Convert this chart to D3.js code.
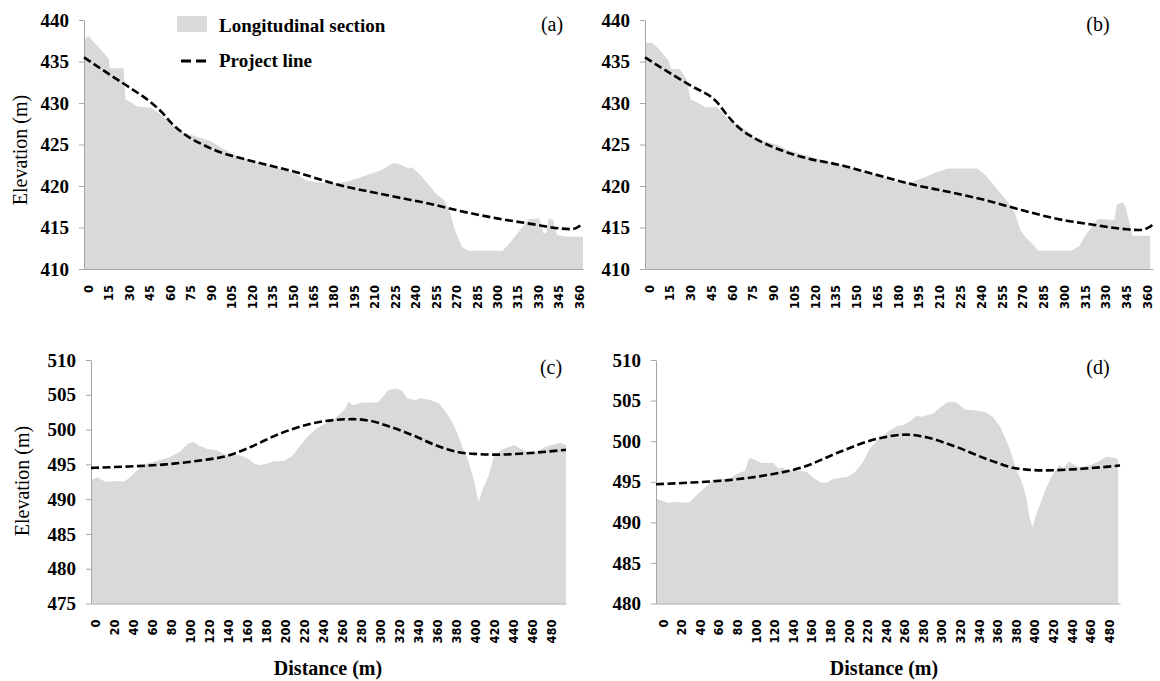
<!DOCTYPE html>
<html><head><meta charset="utf-8">
<script src="https://cdn.jsdelivr.net/npm/d3@7"></script>
<style>body{margin:0;background:#fff}svg{display:block}</style>
</head><body>
<svg id="chart" width="1160" height="681"></svg>
<script>
// ---------- DATA ----------
const ticksDistAB = [0,15,30,45,60,75,90,105,120,135,150,165,180,195,210,225,240,255,270,285,300,315,330,345,360];
const ticksDistCD = [0,20,40,60,80,100,120,140,160,180,200,220,240,260,280,300,320,340,360,380,400,420,440,460,480];
const ticksElevAB = [410,415,420,425,430,435,440];
const ticksElevC = [475,480,485,490,495,500,505,510];
const ticksElevD = [480,485,490,495,500,505,510];

const sectionDistA = [0,3,18,19,29,30.5,33,39,49.6,56,66,74,82,93,101,112,128,155,163,174,182,193,204,218,226,230,237,241,248,258,264,268,272,277,282,307,310,318,326,334,337,339,341,344,347,354,366];
const sectionElevA = [437.6,438.1,435.4,434.2,434.2,430.4,430.2,429.6,429.4,428.6,427.2,426.4,426.0,425.4,424.6,423.6,422.8,421.5,420.7,420.4,420.3,420.5,421.1,421.9,422.7,422.7,422.2,422.2,421.1,419.1,418.3,417.1,414.7,412.7,412.2,412.2,412.7,414.3,416.0,416.1,414.3,414.3,416.1,415.9,414.1,413.9,413.9];
const projectDistA = [0,20,35,49.6,57,64,74,87,101,114,128,155,183,228,258,273,303,333,348,358,366];
const projectElevA = [435.5,433.3,431.7,430.0,428.9,427.6,426.2,425.0,424.0,423.4,422.8,421.7,420.3,418.7,417.7,417.1,416.1,415.3,414.9,414.8,415.5];

const sectionDistB = [0,5,10,17,19,25,30,33,36,44,52,56,60,68,76,81,86,97,102,139,166,185,193,203,211,219,240,246,254,262,267,271,275,279,284,308,314,318,327,332,339,341,345,347,351,352,365];
const sectionElevB = [437.2,437.3,436.5,435.1,434.1,434.1,432.9,430.4,430.2,429.5,429.5,428.8,428.0,427.3,426.4,425.4,425.4,424.9,424.4,422.6,421.4,420.3,420.5,421.1,421.7,422.1,422.1,421.3,419.7,418.1,416.8,414.8,413.8,413.2,412.2,412.2,412.8,414.0,416.0,416.0,415.9,417.8,418.0,417.6,414.9,414.0,414.0];
const projectDistB = [0,19,33,52,60,68,81,100,118,139,166,193,219,246,272,299,325,347,357,365,367];
const projectElevB = [435.5,433.5,432.1,430.1,428.4,427.0,425.6,424.2,423.3,422.6,421.4,420.2,419.3,418.3,417.1,416.0,415.3,414.8,414.7,415.1,415.5];

const sectionDistC = [0,7,15,28,34,40,49,57,67,82,94,102,108,115,123,133,143,156,164,172,177,183,191,203,212,218,228,238,247,257,267,271,276,286,302,307,313,321,327,333,341,346,356,366,373,379,385,391,397,403,408,412,418,424,432,445,451,459,469,478,488,494,500];
const sectionElevC = [492.8,493.1,492.5,492.6,492.5,493.0,494.2,495.1,495.4,496.0,496.8,498.0,498.2,497.6,497.2,497.0,496.3,496.3,495.9,495.1,494.9,495.0,495.4,495.5,496.2,497.3,499.0,500.2,500.9,501.6,502.9,504.0,503.5,503.9,503.9,504.7,505.7,505.9,505.6,504.5,504.2,504.5,504.3,503.8,502.6,501.4,499.7,497.5,495.6,492.7,489.6,491.3,493.2,496.1,497.1,497.8,497.3,496.8,496.8,497.5,497.9,498.1,497.8];
const projectDistC = [0,40,79,117,143,168,195,222,245,276,292,315,342,362,385,404,428,459,500];
const projectElevC = [494.5,494.7,495.0,495.6,496.2,497.5,499.2,500.5,501.2,501.5,501.3,500.4,499.0,497.8,496.8,496.5,496.4,496.6,497.1];

const sectionDistD = [0,6,12,22,34,38,46,54,62,68,78,86,96,100,104,114,126,132,136,140,154,162,170,178,184,190,198,206,214,222,230,238,250,260,266,274,280,286,298,304,312,318,324,332,342,354,362,370,376,382,388,394,398,402,405,408,412,418,426,434,438,444,454,466,476,484,494,497];
const sectionElevD = [492.9,492.7,492.4,492.5,492.4,492.7,493.6,494.4,495.3,495.4,495.3,495.9,496.4,497.9,497.8,497.3,497.3,496.6,496.8,496.4,496.4,496.2,495.4,494.9,494.9,495.3,495.5,495.6,496.2,497.3,499.1,500.1,501.2,501.9,502.0,502.5,503.1,503.0,503.4,504.0,504.7,504.9,504.7,503.9,503.8,503.6,503.0,501.8,500.3,498.5,496.4,494.8,493.1,490.5,489.4,490.7,491.9,493.8,495.8,497.1,496.6,497.5,496.8,497.0,497.5,498.1,497.9,497.7];
const projectDistD = [0,38,78,118,158,198,238,270,286,318,358,390,418,458,499];
const projectElevD = [494.7,494.9,495.2,495.8,496.8,498.7,500.3,500.8,500.6,499.5,497.7,496.6,496.4,496.6,497.0];

const panelLabels = ["(a)","(b)","(c)","(d)"];
const legendLabels = ["Longitudinal section","Project line"];
const yTitle = "Elevation (m)";
const xTitle = "Distance (m)";

// ---------- LAYOUT ----------
const svg = d3.select("#chart");
const AXIS = "#a6a6a6", FILL = "#d9d9d9";
const SERIF = "'Liberation Serif','Times New Roman',serif";

const panels = [
  {sd:sectionDistA, se:sectionElevA, pd:projectDistA, pe:projectElevA, xd:[0,366], xr:[84,583], yd:[410,440], yr:[269,20], xt:ticksDistAB, yt:ticksElevAB, off:4.5, lab:panelLabels[0], lx:552, ly:31},
  {sd:sectionDistB, se:sectionElevB, pd:projectDistB, pe:projectElevB, xd:[0,367], xr:[645,1153], yd:[410,440], yr:[269,20], xt:ticksDistAB, yt:ticksElevAB, off:4, lab:panelLabels[1], lx:1098, ly:31},
  {sd:sectionDistC, se:sectionElevC, pd:projectDistC, pe:projectElevC, xd:[0,500], xr:[91,566], yd:[475,510], yr:[603.5,360], xt:ticksDistCD, yt:ticksElevC, off:4, lab:panelLabels[2], lx:551, ly:374},
  {sd:sectionDistD, se:sectionElevD, pd:projectDistD, pe:projectElevD, xd:[0,499], xr:[656,1120], yd:[480,510], yr:[603.5,360], xt:ticksDistCD, yt:ticksElevD, off:7, lab:panelLabels[3], lx:1098, ly:374}
];

panels.forEach(p => {
  const x = d3.scaleLinear().domain(p.xd).range(p.xr);
  const y = d3.scaleLinear().domain(p.yd).range(p.yr);
  const g = svg.append("g");
  const sec = p.sd.map((d,i)=>[d,p.se[i]]);
  const prj = p.pd.map((d,i)=>[d,p.pe[i]]);

  g.append("path").datum(sec)
    .attr("d", d3.area().x(d=>x(d[0])).y0(y(p.yd[0])).y1(d=>y(d[1])))
    .attr("fill", FILL);

  // y axis
  const gy = g.append("g").attr("transform",`translate(${p.xr[0]},0)`)
    .call(d3.axisLeft(y).tickValues(p.yt).tickSize(5).tickSizeOuter(0).tickPadding(10).tickFormat(d3.format("d")));
  gy.select(".domain").attr("stroke",AXIS);
  gy.selectAll(".tick line").attr("stroke",AXIS);
  gy.selectAll(".tick text").attr("font-family",SERIF).attr("font-weight","bold")
    .attr("font-size",19).attr("fill","#000");

  // x axis
  const gx = g.append("g").attr("transform",`translate(0,${p.yr[0]})`)
    .call(d3.axisBottom(x).tickValues(p.xt).tickSize(0).tickSizeOuter(0));
  gx.select(".domain").attr("stroke",AXIS);
  gx.selectAll(".tick text")
    .attr("x",0).attr("y",0).attr("dy","0.35em")
    .attr("transform",`translate(${p.off},16) rotate(-90)`)
    .attr("text-anchor","end")
    .attr("font-family","'DejaVu Sans',sans-serif").attr("font-weight","bold")
    .attr("font-size",11.5).attr("fill","#000");

  // project line
  g.append("path").datum(prj)
    .attr("d", d3.line().x(d=>x(d[0])).y(d=>y(d[1])).curve(d3.curveMonotoneX))
    .attr("fill","none").attr("stroke","#000").attr("stroke-width",2.6)
    .attr("stroke-dasharray","8,3.5");

  svg.append("text").attr("x",p.lx).attr("y",p.ly).attr("text-anchor","middle")
    .attr("font-family",SERIF).attr("font-size",20).text(p.lab);
});

// legend
svg.append("rect").attr("x",177).attr("y",16).attr("width",30).attr("height",16).attr("fill",FILL);
svg.append("text").attr("x",219).attr("y",32).attr("font-family",SERIF).attr("font-weight","bold")
  .attr("font-size",19).text(legendLabels[0]);
svg.append("line").attr("x1",181).attr("x2",208).attr("y1",61).attr("y2",61)
  .attr("stroke","#000").attr("stroke-width",3).attr("stroke-dasharray","10,5");
svg.append("text").attr("x",219).attr("y",67).attr("font-family",SERIF).attr("font-weight","bold")
  .attr("font-size",19).text(legendLabels[1]);

// axis titles
[[20,150],[22,481]].forEach(([cx,cy]) => {
  svg.append("text").attr("transform",`translate(${cx},${cy}) rotate(-90)`)
    .attr("text-anchor","middle").attr("dy","0.35em")
    .attr("font-family",SERIF).attr("font-size",20).text(yTitle);
});
[328,884].forEach(cx => {
  svg.append("text").attr("x",cx).attr("y",675).attr("text-anchor","middle")
    .attr("font-family",SERIF).attr("font-weight","bold").attr("font-size",20).text(xTitle);
});
</script>
</body></html>
